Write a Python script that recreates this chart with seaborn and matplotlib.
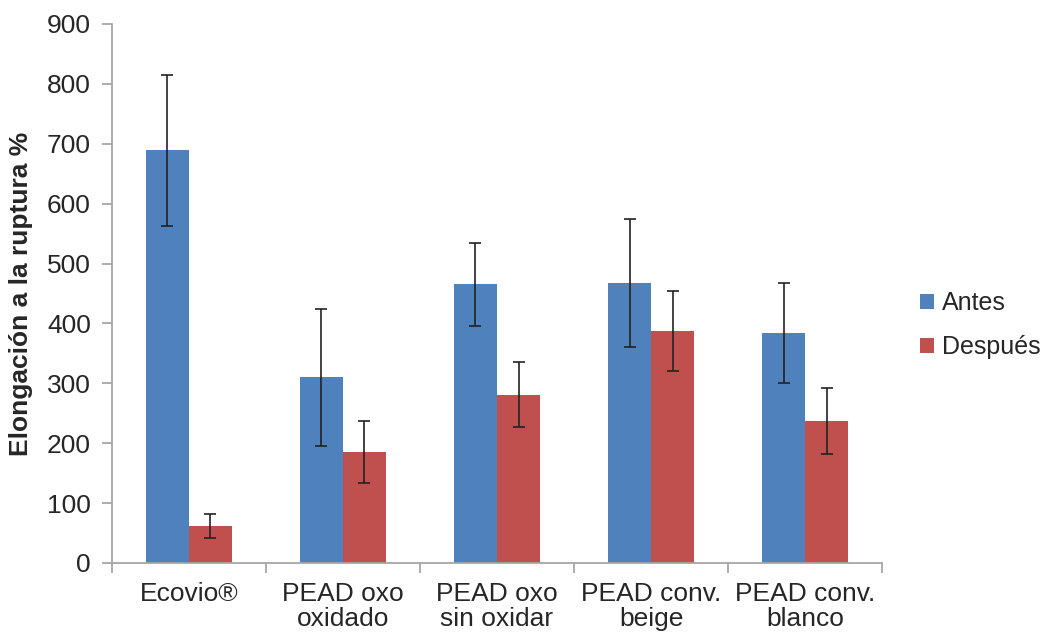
import seaborn as sns
import matplotlib.pyplot as plt
import pandas as pd

# data
categorias = ['Ecovio®', 'PEAD oxo\noxidado', 'PEAD oxo\nsin oxidar',
              'PEAD conv.\nbeige', 'PEAD conv.\nblanco']
antes = [689, 310, 465, 467, 384]
despues = [62, 185, 281, 387, 237]
err_antes = [126, 114, 69, 107, 84]
err_despues = [20, 52, 54, 67, 55]
series = ['Antes', 'Después']

df = pd.DataFrame({
    'categoria': categorias * 2,
    'valor': antes + despues,
    'serie': [series[0]] * len(antes) + [series[1]] * len(despues),
})
errores = [err_antes, err_despues]

sns.set_style('white')
plt.rcParams['font.family'] = ['Liberation Sans', 'DejaVu Sans']

fig = plt.figure(figsize=(10.53, 6.38), dpi=100)
ax = fig.add_axes([0.106, 0.1176, 0.732, 0.8448])

sns.barplot(data=df, x='categoria', y='valor', hue='serie',
            palette=['#4F81BD', '#C0504D'], width=0.56, gap=0,
            saturation=1, linewidth=0, errorbar=None, ax=ax)

""" Error bars on top of each bar. """
for cont, err in zip(ax.containers, errores):
    xs = [b.get_x() + b.get_width() / 2 for b in cont]
    ys = [b.get_height() for b in cont]
    ax.errorbar(xs, ys, yerr=err, fmt='none', ecolor='#222222',
                elinewidth=1.2, capsize=4.5, capthick=1.2)

ax.set_ylim(0, 900)
ax.set_yticks(range(0, 901, 100))
ax.set_xlim(-0.5, len(categorias) - 0.5)
ax.set_xticks([i - 0.5 for i in range(len(categorias) + 1)], minor=True)
ax.tick_params(axis='x', which='major', length=0, pad=14, labelsize=19)
ax.tick_params(axis='x', which='minor', length=7, color='#A6A6A6', width=1.3, direction='out', bottom=True)
ax.tick_params(axis='y', length=7, color='#A6A6A6', width=1.3, direction='out', left=True, labelsize=19, pad=8)
for t in ax.get_xticklabels():
    t.set_linespacing(1.05)

for s in ['top', 'right']:
    ax.spines[s].set_visible(False)
for s in ['left', 'bottom']:
    ax.spines[s].set_color('#A6A6A6')
    ax.spines[s].set_linewidth(1.3)

ax.set_xlabel('')
ax.set_ylabel('Elongación a la ruptura %', fontsize=19, fontweight='bold', labelpad=10)

h, l = ax.get_legend_handles_labels()
ax.legend(h, l, loc='center left', bbox_to_anchor=(0.874, 0.49),
          bbox_transform=fig.transFigure, frameon=False, fontsize=18,
          borderpad=0, borderaxespad=0,
          handlelength=0.55, handleheight=0.55, handletextpad=0.3,
          labelspacing=0.8)

fig.savefig('out.png', dpi=100)
